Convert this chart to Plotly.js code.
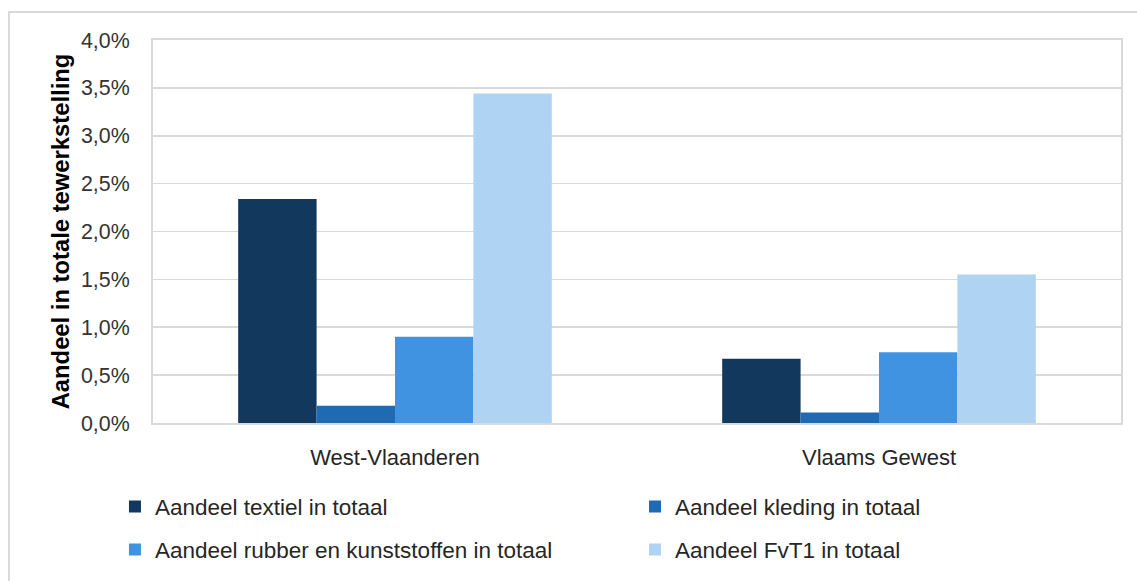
<!DOCTYPE html>
<html>
<head>
<meta charset="utf-8">
<script src="https://cdn.plot.ly/plotly-3.0.1.min.js"></script>
<style>html,body{margin:0;padding:0;background:#fff;}#chart{width:1137px;height:581px;}</style>
</head>
<body>
<div id="chart"></div>
<script>
const categories = ["West-Vlaanderen", "Vlaams Gewest"];
const seriesNames = [
  "Aandeel textiel in totaal",
  "Aandeel kleding in totaal",
  "Aandeel rubber en kunststoffen in totaal",
  "Aandeel FvT1 in totaal"
];
const textiel = [2.34, 0.67];
const kleding = [0.18, 0.11];
const rubber = [0.90, 0.74];
const fvt1 = [3.44, 1.55];
const yTickVals = [0, 0.5, 1, 1.5, 2, 2.5, 3, 3.5, 4];
const yTickText = ["0,0%", "0,5%", "1,0%", "1,5%", "2,0%", "2,5%", "3,0%", "3,5%", "4,0%"];
const yTitle = "Aandeel in totale tewerkstelling";

const colors = ["#12385E", "#1E6AB3", "#3F93E0", "#AFD3F2"];
const values = [textiel, kleding, rubber, fvt1];
const legendIds = ["legend", "legend2", "legend3", "legend4"];
// legend positions in container fractions (x of legend box left, y of row centre)
const legendX = [0.1011, 0.5585, 0.1011, 0.5585];
const legendY = [0.1274, 0.1274, 0.0534, 0.0534];
const FONT = "Liberation Sans, Arial, sans-serif";

const traces = values.map((v, i) => ({
  type: "bar",
  x: categories,
  y: v,
  name: seriesNames[i],
  legend: legendIds[i],
  marker: {color: colors[i], line: {width: 0}},
  hoverinfo: "skip"
}));

const layout = {
  width: 1137, height: 581,
  margin: {l: 153, r: 16, t: 40, b: 157.5},
  paper_bgcolor: "#ffffff",
  plot_bgcolor: "#ffffff",
  barmode: "group",
  bargap: 0.352,
  bargroupgap: 0,
  showlegend: true,
  font: {family: FONT, color: "#404040"},
  xaxis: {
    showgrid: false,
    showline: true, mirror: true, linecolor: "#D9D9D9", linewidth: 2,
    ticks: "", ticklabelstandoff: 14,
    tickfont: {family: FONT, size: 22, color: "#262626"},
    fixedrange: true
  },
  yaxis: {
    range: [0, 4],
    tickvals: yTickVals,
    ticktext: yTickText,
    showgrid: true, gridcolor: "#D9D9D9", gridwidth: 1.7,
    zeroline: false,
    showline: true, mirror: true, linecolor: "#D9D9D9", linewidth: 2,
    ticks: "", ticklabelstandoff: 17,
    tickfont: {family: FONT, size: 21.4, color: "#333333"},
    title: {text: yTitle, standoff: 5, font: {family: FONT, size: 23.8, color: "#000000", weight: "bold"}},
    fixedrange: true
  },
  shapes: [{
    type: "rect", xref: "paper", yref: "paper",
    x0: -0.1488, x1: 1.1, y0: -0.7, y1: 1.073,
    line: {color: "#D9D9D9", width: 2}, fillcolor: "rgba(0,0,0,0)", layer: "below"
  }]
};

legendIds.forEach((id, i) => {
  layout[id] = {
    orientation: "h",
    xref: "container", yref: "container",
    x: legendX[i], y: legendY[i],
    xanchor: "left", yanchor: "middle",
    font: {family: FONT, size: 22.5, color: "#262626"},
    bgcolor: "rgba(0,0,0,0)",
    itemclick: false, itemdoubleclick: false
  };
});

Plotly.newPlot("chart", traces, layout, {displayModeBar: false, staticPlot: true});
</script>
</body>
</html>
